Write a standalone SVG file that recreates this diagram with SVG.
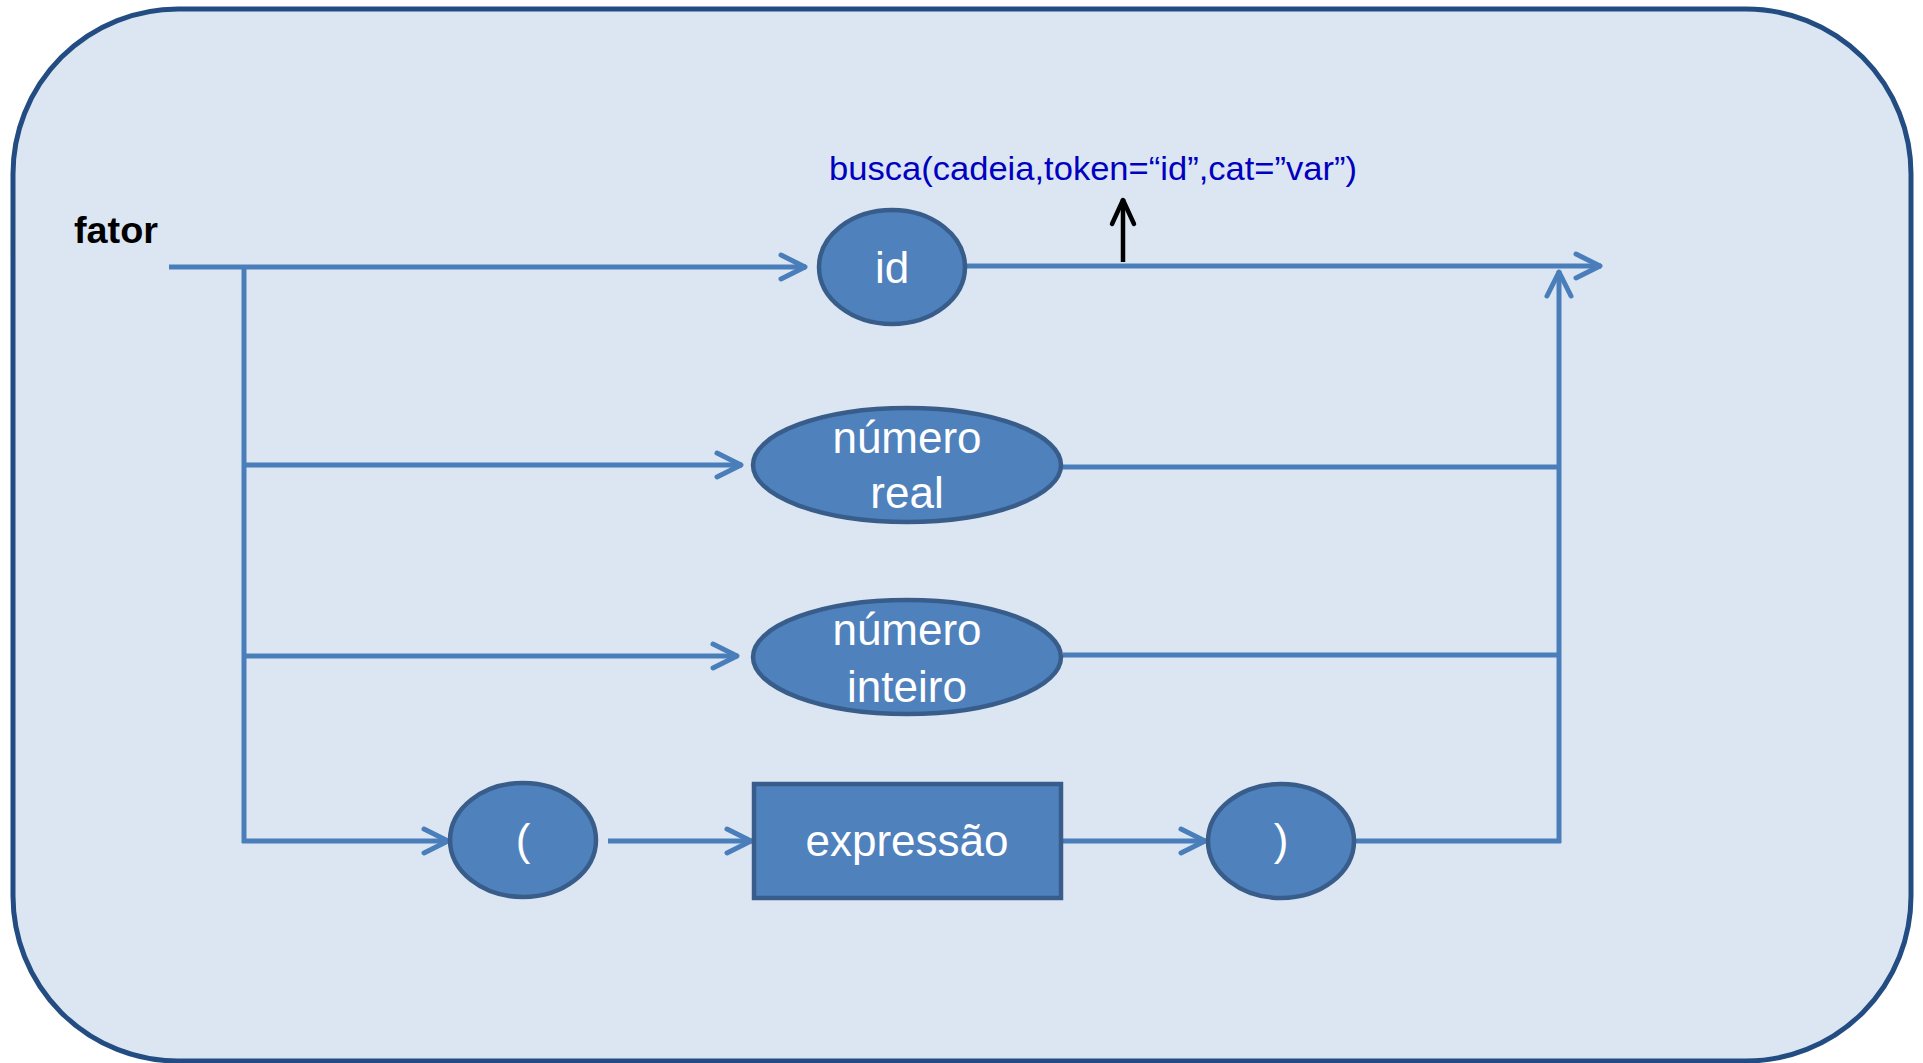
<svg xmlns="http://www.w3.org/2000/svg" width="1923" height="1063" viewBox="0 0 1923 1063">
<defs>
<style>
.bg{fill:#DCE6F2;stroke:#234D82;stroke-width:5}
.node{fill:#4F81BD;stroke:#385D8A;stroke-width:4.5}
.lbl{font-family:"Liberation Sans",Arial,sans-serif;font-size:44px;fill:#FFFFFF;text-anchor:middle}
.ln{fill:none;stroke:#4A7EBB;stroke-width:5;stroke-linecap:butt}
.blk{fill:none;stroke:#000000;stroke-width:4.5}
</style>
<marker id="ah" markerUnits="userSpaceOnUse" orient="auto" markerWidth="40" markerHeight="40" refX="1" refY="0" viewBox="-30 -20 40 40" overflow="visible">
<path d="M-24,-12 L0,0 L-24,12" fill="none" stroke="#4A7EBB" stroke-width="5" stroke-linecap="round" stroke-linejoin="round"/>
</marker>
<marker id="ahk" markerUnits="userSpaceOnUse" orient="auto" markerWidth="40" markerHeight="40" refX="1" refY="0" viewBox="-30 -20 40 40" overflow="visible">
<path d="M-24,-11 L0,0 L-24,11" fill="none" stroke="#000000" stroke-width="4.5" stroke-linecap="round" stroke-linejoin="round"/>
</marker>
</defs>
<rect class="bg" x="13" y="9" width="1898" height="1052" rx="165" ry="165"/>
<text x="74" y="243" font-family="'Liberation Sans',Arial,sans-serif" font-size="37" font-weight="bold" fill="#000000" textLength="84" lengthAdjust="spacingAndGlyphs">fator</text>
<text x="829" y="180" font-family="'Liberation Sans',Arial,sans-serif" font-size="33" fill="#0000C0" textLength="528" lengthAdjust="spacingAndGlyphs">busca(cadeia,token=“id”,cat=”var”)</text>
<g id="connectors">
<path class="ln" d="M169,267 L806,267" marker-end="url(#ah)"/>
<path class="ln" d="M244,267 L244,843"/>
<path class="ln" d="M244,465 L742,465" marker-end="url(#ah)"/>
<path class="ln" d="M244,656 L738,656" marker-end="url(#ah)"/>
<path class="ln" d="M242,841 L449,841" marker-end="url(#ah)"/>
<path class="ln" d="M608,841 L752,841" marker-end="url(#ah)"/>
<path class="ln" d="M1063,841 L1206,841" marker-end="url(#ah)"/>
<path class="ln" d="M1340,841 L1561,841"/>
<path class="ln" d="M1559,843 L1559,271" marker-end="url(#ah)"/>
<path class="ln" d="M1062,467 L1559,467"/>
<path class="ln" d="M1063,655 L1559,655"/>
<path class="ln" d="M965,266 L1601,266" marker-end="url(#ah)"/>
<path class="blk" d="M1123,262 L1123,199" marker-end="url(#ahk)"/>
</g>
<g id="node-id">
<ellipse class="node" cx="892" cy="267" rx="73" ry="57"/>
<text class="lbl" x="892" y="283">id</text>
</g>
<g id="node-numero-real">
<ellipse class="node" cx="907" cy="465" rx="154" ry="57"/>
<text class="lbl" x="907" y="453">número</text>
<text class="lbl" x="907" y="508">real</text>
</g>
<g id="node-numero-inteiro">
<ellipse class="node" cx="907" cy="657" rx="154" ry="57"/>
<text class="lbl" x="907" y="645">número</text>
<text class="lbl" x="907" y="702">inteiro</text>
</g>
<g id="node-abre">
<ellipse class="node" cx="523" cy="840" rx="73" ry="57"/>
<text class="lbl" x="523" y="855">(</text>
</g>
<g id="node-expressao">
<rect class="node" x="754" y="784" width="307" height="114"/>
<text class="lbl" x="907" y="856">expressão</text>
</g>
<g id="node-fecha">
<ellipse class="node" cx="1281" cy="841" rx="73" ry="57"/>
<text class="lbl" x="1281" y="855">)</text>
</g>
</svg>
